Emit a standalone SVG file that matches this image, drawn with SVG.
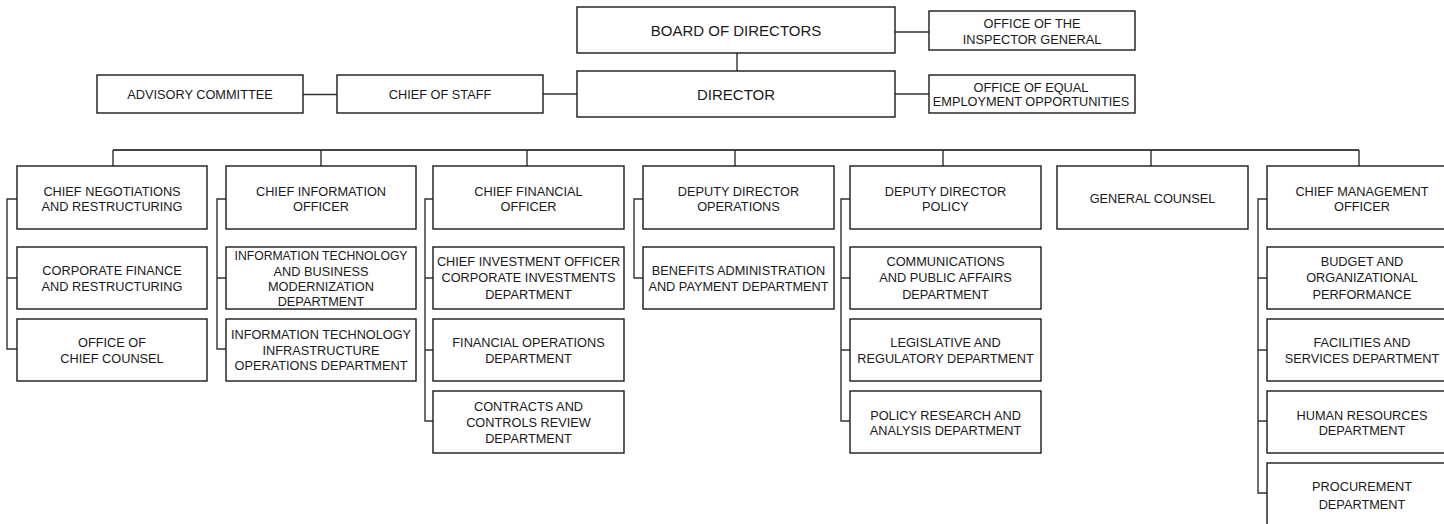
<svg xmlns="http://www.w3.org/2000/svg" width="1444" height="524" viewBox="0 0 1444 524">
<style>
.b{fill:#fff;stroke:#1a1a1a;stroke-width:1.4}
.c{fill:none;stroke:#333;stroke-width:1.4}
.bus{fill:none;stroke:#444;stroke-width:1.8}
text{font-family:"Liberation Sans",Arial,sans-serif;font-size:12.75px;fill:#1a1a1a;text-anchor:middle}
.l{font-size:15px}
</style>
<rect width="1444" height="524" fill="#fff"/>
<g id="connectors">
<path class="c" d="M737,53V71 M895,32H929 M895,94H929 M303,94.5H337 M543,94H577"/>
<path class="bus" d="M113,150H1359"/>
<path class="c" d="M113,150V166 M321,150V166 M527,150V166 M735,150V166 M943,150V166 M1151,150V166 M1359,150V166"/>
<path class="c" d="M17,199H7V349H17 M7,278H17"/>
<path class="c" d="M226,199H217V349H226 M217,278H226"/>
<path class="c" d="M433,199H425V421H433 M425,278H433 M425,350H433"/>
<path class="c" d="M643,199H634V278H643"/>
<path class="c" d="M850,199H841V421H850 M841,278H850 M841,350H850"/>
<path class="c" d="M1267,199H1258V493H1267 M1258,278H1267 M1258,350H1267 M1258,421H1267"/>
</g>
<g id="board"><rect class="b" x="577" y="7" width="318" height="46"/><text class="l" x="736" y="36">BOARD OF DIRECTORS</text></g>
<g id="director"><rect class="b" x="577" y="71" width="318" height="46"/><text class="l" x="736" y="100">DIRECTOR</text></g>
<g id="oig"><rect class="b" x="929" y="11" width="206" height="39"/><text x="1032" y="28">OFFICE OF THE</text><text x="1032" y="44">INSPECTOR GENERAL</text></g>
<g id="eeo"><rect class="b" x="929" y="75" width="206" height="38"/><text x="1031" y="91.5">OFFICE OF EQUAL</text><text x="1031" y="105.5">EMPLOYMENT OPPORTUNITIES</text></g>
<g id="advisory"><rect class="b" x="97" y="75" width="206" height="38"/><text x="200" y="99.3">ADVISORY COMMITTEE</text></g>
<g id="chief-of-staff"><rect class="b" x="337" y="75" width="206" height="38"/><text x="440" y="99.3">CHIEF OF STAFF</text></g>

<g id="chief-negotiations"><rect class="b" x="17" y="166" width="190" height="63"/><text x="112" y="195.5">CHIEF NEGOTIATIONS</text><text x="112" y="211">AND RESTRUCTURING</text></g>
<g id="corporate-finance"><rect class="b" x="17" y="247" width="190" height="62"/><text x="112" y="274.6">CORPORATE FINANCE</text><text x="112" y="290.6">AND RESTRUCTURING</text></g>
<g id="chief-counsel"><rect class="b" x="17" y="319" width="190" height="62"/><text x="112" y="347">OFFICE OF</text><text x="112" y="363.3">CHIEF COUNSEL</text></g>

<g id="cio"><rect class="b" x="226" y="166" width="190" height="63"/><text x="321" y="195.5">CHIEF INFORMATION</text><text x="321" y="211">OFFICER</text></g>
<g id="it-modernization"><rect class="b" x="226" y="247" width="190" height="62"/><text x="321" y="260.3" textLength="173" lengthAdjust="spacingAndGlyphs">INFORMATION TECHNOLOGY</text><text x="321" y="275.6">AND BUSINESS</text><text x="321" y="290.9">MODERNIZATION</text><text x="321" y="306.2">DEPARTMENT</text></g>
<g id="it-infrastructure"><rect class="b" x="226" y="319" width="190" height="62"/><text x="321" y="338.6" textLength="180" lengthAdjust="spacingAndGlyphs">INFORMATION TECHNOLOGY</text><text x="321" y="355">INFRASTRUCTURE</text><text x="321" y="370.3">OPERATIONS DEPARTMENT</text></g>

<g id="cfo"><rect class="b" x="433" y="166" width="191" height="63"/><text x="528.5" y="195.5">CHIEF FINANCIAL</text><text x="528.5" y="211">OFFICER</text></g>
<g id="corporate-investments"><rect class="b" x="433" y="247" width="191" height="62"/><text x="528.5" y="266.3">CHIEF INVESTMENT OFFICER</text><text x="528.5" y="282.3">CORPORATE INVESTMENTS</text><text x="528.5" y="298.6">DEPARTMENT</text></g>
<g id="financial-operations"><rect class="b" x="433" y="319" width="191" height="62"/><text x="528.5" y="347">FINANCIAL OPERATIONS</text><text x="528.5" y="363.3">DEPARTMENT</text></g>
<g id="contracts"><rect class="b" x="433" y="391" width="191" height="62"/><text x="528.5" y="411.3">CONTRACTS AND</text><text x="528.5" y="427">CONTROLS REVIEW</text><text x="528.5" y="442.6">DEPARTMENT</text></g>

<g id="dd-operations"><rect class="b" x="643" y="166" width="191" height="63"/><text x="738.5" y="195.5">DEPUTY DIRECTOR</text><text x="738.5" y="211">OPERATIONS</text></g>
<g id="benefits"><rect class="b" x="643" y="247" width="191" height="62"/><text x="738.5" y="274.6">BENEFITS ADMINISTRATION</text><text x="738.5" y="290.6">AND PAYMENT DEPARTMENT</text></g>

<g id="dd-policy"><rect class="b" x="850" y="166" width="191" height="63"/><text x="945.5" y="195.5">DEPUTY DIRECTOR</text><text x="945.5" y="211">POLICY</text></g>
<g id="communications"><rect class="b" x="850" y="247" width="191" height="62"/><text x="945.5" y="266.3">COMMUNICATIONS</text><text x="945.5" y="282.3">AND PUBLIC AFFAIRS</text><text x="945.5" y="298.6">DEPARTMENT</text></g>
<g id="legislative"><rect class="b" x="850" y="319" width="191" height="62"/><text x="945.5" y="347">LEGISLATIVE AND</text><text x="945.5" y="363.3">REGULATORY DEPARTMENT</text></g>
<g id="policy-research"><rect class="b" x="850" y="391" width="191" height="62"/><text x="945.5" y="419.6">POLICY RESEARCH AND</text><text x="945.5" y="435">ANALYSIS DEPARTMENT</text></g>

<g id="general-counsel"><rect class="b" x="1057" y="166" width="191" height="63"/><text x="1152.5" y="203">GENERAL COUNSEL</text></g>

<g id="cmo"><rect class="b" x="1267" y="166" width="191" height="63"/><text x="1362" y="195.5">CHIEF MANAGEMENT</text><text x="1362" y="211">OFFICER</text></g>
<g id="budget"><rect class="b" x="1267" y="247" width="191" height="62"/><text x="1362" y="266.3">BUDGET AND</text><text x="1362" y="282.3">ORGANIZATIONAL</text><text x="1362" y="298.6">PERFORMANCE</text></g>
<g id="facilities"><rect class="b" x="1267" y="319" width="191" height="62"/><text x="1362" y="347">FACILITIES AND</text><text x="1362" y="363.3">SERVICES DEPARTMENT</text></g>
<g id="human-resources"><rect class="b" x="1267" y="391" width="191" height="62"/><text x="1362" y="419.6">HUMAN RESOURCES</text><text x="1362" y="435">DEPARTMENT</text></g>
<g id="procurement"><rect class="b" x="1267" y="463" width="191" height="63"/><text x="1362" y="491.3">PROCUREMENT</text><text x="1362" y="508.6">DEPARTMENT</text></g>
</svg>
